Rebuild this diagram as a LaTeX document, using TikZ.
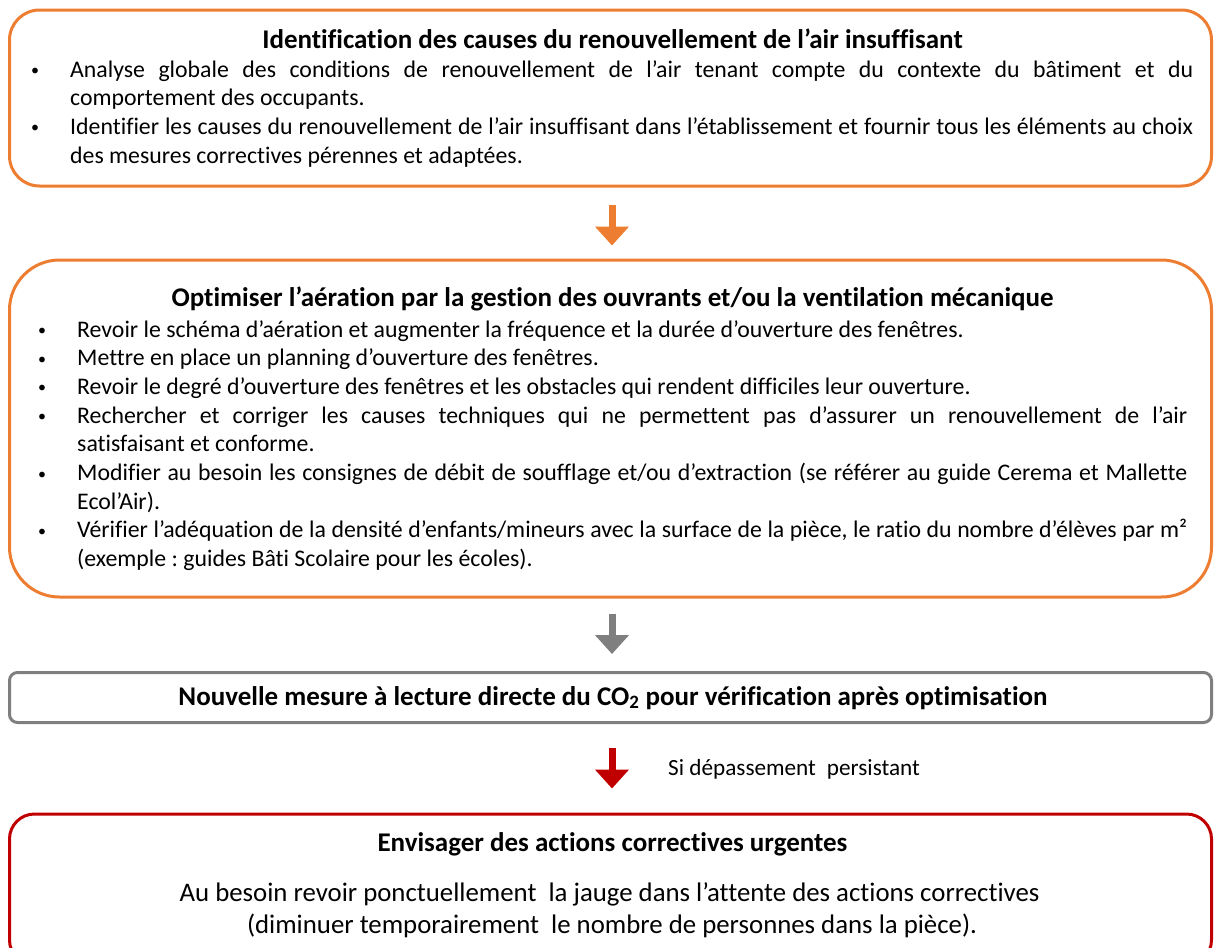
\documentclass[tikz,border=0pt]{standalone}
\usepackage{fontspec}
\setmainfont{Carlito}[Ligatures=NoCommon]
\usetikzlibrary{arrows.meta}
\definecolor{orng}{HTML}{ED7D31}
\definecolor{gry}{HTML}{7F7F7F}
\definecolor{rd}{HTML}{C00000}
\frenchspacing
\newlength\bulletindent
\setlength\bulletindent{40pt}
\newcommand\bodysetup{\frenchspacing\leftskip=0pt\rightskip=0pt\parfillskip=0pt plus 1fil\relax
  \tolerance=10000\hbadness=10000\emergencystretch=0pt\relax
  \spaceskip=0.226em plus 1em minus 0.12em\relax}
\newcommand\bitem[1]{\noindent\hangindent=\bulletindent\hangafter=1\relax
  \makebox[\bulletindent][l]{\hspace{1pt}\raisebox{1.5pt}{\fontsize{16}{16}\selectfont\textbullet}}#1\par}
\tikzset{
  x=1pt, y=-1pt,
  framebox/.style={draw, line width=3pt, inner sep=0pt, minimum width=1202pt},
  obox/.style={framebox, draw=orng},
  gbox/.style={framebox, draw=gry},
  rbox/.style={framebox, draw=rd},
  titletext/.style={inner sep=0pt, anchor=base, font=\bfseries\fontsize{27}{32}\selectfont},
  bodytext/.style={inner sep=0pt, anchor=base west, font=\fontsize{23.8}{28.7}\selectfont},
  linetext/.style={inner sep=0pt, anchor=base, font=\fontsize{26.8}{31.7}\selectfont},
  blockarrow/.style={line width=7pt, -{Triangle[width=33pt,length=19pt]}},
}
\begin{document}
\begin{tikzpicture}
\useasboundingbox (0,0) rectangle (1216,948);
\clip (0,0) rectangle (1216,948);
% boxes
\node[obox, rounded corners=30pt, minimum height=176pt] (b1) at (610.5,98) {};
\node[obox, rounded corners=50pt, minimum height=337pt] (b2) at (610.5,428.5) {};
\node[gbox, rounded corners=8pt, minimum height=50pt] (b3) at (610.5,697.5) {};
\node[rbox, rounded corners=25pt, minimum height=151pt] (b4) at (610.5,889.5) {};
% box 1 text
\node[titletext] (h1) at (612.5,48.3) {Identification des causes du renouvellement de l’air insuffisant};
\node[bodytext, text width=1163pt] (t1) at (30,77) {\bodysetup
\bitem{Analyse globale des conditions de renouvellement de l’air tenant compte du contexte du bâtiment et du\linebreak comportement des occupants.}%
\bitem{Identifier les causes du renouvellement de l’air insuffisant dans l’établissement et fournir tous les éléments au choix\linebreak des mesures correctives pérennes et adaptées.}};
% box 2 text
\node[titletext] (h2) at (612.5,306.7) {Optimiser l’aération par la gestion des ouvrants et/ou la ventilation mécanique};
\node[bodytext, text width=1150pt] (t2) at (37,337) {\bodysetup
\bitem{Revoir le schéma d’aération et augmenter la fréquence et la durée d’ouverture des fenêtres.}%
\bitem{Mettre en place un planning d’ouverture des fenêtres.}%
\bitem{Revoir le degré d’ouverture des fenêtres et les obstacles qui rendent difficiles leur ouverture.}%
\bitem{Rechercher et corriger les causes techniques qui ne permettent pas d’assurer un renouvellement de l’air\linebreak satisfaisant et conforme.}%
\bitem{Modifier au besoin les consignes de débit de soufflage et/ou d’extraction (se référer au guide Cerema et Mallette\linebreak Ecol’Air).}%
\bitem{Vérifier l’adéquation de la densité d’enfants/mineurs avec la surface de la pièce, le ratio du nombre d’élèves par m²\linebreak (exemple : guides Bâti Scolaire pour les écoles).}};
% box 3 text
\node[titletext] (h3) at (613,705) {Nouvelle mesure à lecture directe du CO\textsubscript{2} pour vérification après optimisation};
% box 4 text
\node[titletext] (h4) at (612.5,851.7) {Envisager des actions correctives urgentes};
\node[linetext] (l4a) at (609.5,901.7) {Au besoin revoir ponctuellement\ \ la jauge dans l’attente des actions correctives};
\node[linetext] (l4b) at (612,933.3) {(diminuer temporairement\ \ le nombre de personnes dans la pièce).};
% arrows
\draw[blockarrow, orng] ([xshift=1.5pt,yshift=-17pt]b1.south) -- ([xshift=1.5pt,yshift=13pt]b2.north);
\draw[blockarrow, gry] ([xshift=1.5pt,yshift=-15pt]b2.south) -- ([xshift=1.5pt,yshift=17pt]b3.north);
\draw[blockarrow, rd] ([xshift=1.5pt,yshift=-24pt]b3.south) -- ([xshift=1.5pt,yshift=24pt]b4.north);
\node[inner sep=0pt, anchor=base west, font=\fontsize{23.2}{28}\selectfont] (lbl) at (668,775) {Si dépassement\hspace{11pt}persistant};
\end{tikzpicture}
\end{document}
